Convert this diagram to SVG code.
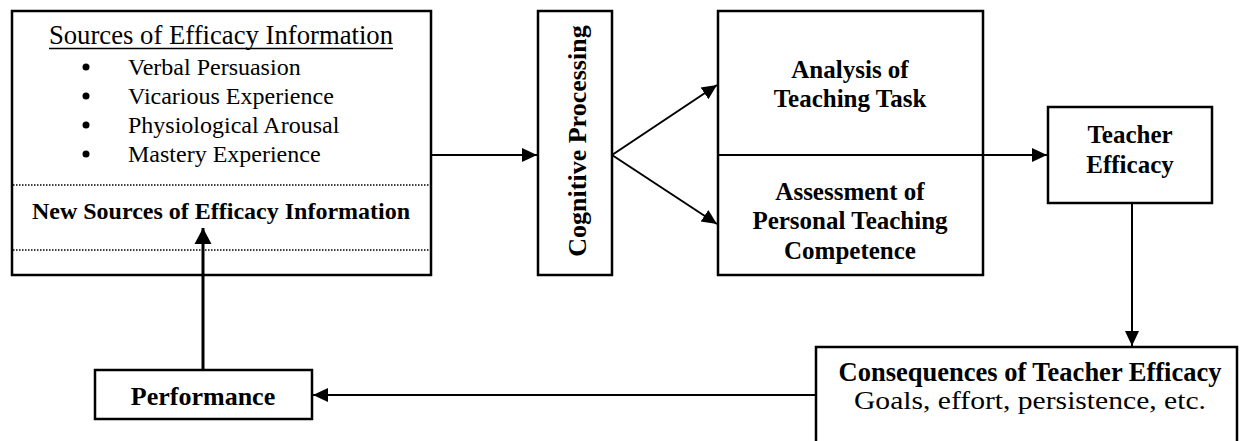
<svg xmlns="http://www.w3.org/2000/svg" width="1248" height="441" viewBox="0 0 1248 441">
<style>
.box{fill:#fff;stroke:#000;stroke-width:2.5}
.dot{stroke:#000;stroke-width:1.5;stroke-dasharray:1.5 1.5;fill:none}
.t{font-family:"Liberation Serif","Times New Roman",serif;fill:#000}
.b{font-weight:bold}
.c{text-anchor:middle}
.con{stroke:#000;stroke-width:2;fill:none}
.thick{stroke:#000;stroke-width:3;fill:none}
</style>
<defs>
<marker id="ah" markerUnits="userSpaceOnUse" markerWidth="16" markerHeight="16" refX="15" refY="8" orient="auto">
<path d="M0,1 L15,8 L0,15 Z" fill="#000"/>
</marker>
<marker id="ah2" markerUnits="userSpaceOnUse" markerWidth="18" markerHeight="18" refX="16" refY="9" orient="auto">
<path d="M0,0.5 L16,9 L0,17.5 Z" fill="#000"/>
</marker>
</defs>
<rect x="0" y="0" width="1248" height="441" fill="#fff"/>
<g id="sources">
<rect class="box" x="12" y="11" width="419" height="264"/>
<text class="t c" x="221" y="44" font-size="26.7">Sources of Efficacy Information</text>
<line x1="49" y1="48.5" x2="393" y2="48.5" stroke="#000" stroke-width="1.5"/>
<g class="t" font-size="24">
<circle cx="86" cy="67" r="3.5" fill="#000"/><text x="128" y="75">Verbal Persuasion</text>
<circle cx="86" cy="96" r="3.5" fill="#000"/><text x="128" y="104">Vicarious Experience</text>
<circle cx="86" cy="125" r="3.5" fill="#000"/><text x="128" y="133">Physiological Arousal</text>
<circle cx="86" cy="154" r="3.5" fill="#000"/><text x="128" y="162">Mastery Experience</text>
</g>
<line class="dot" x1="13" y1="185" x2="430" y2="185"/>
<text class="t b c" x="221" y="219" font-size="24">New Sources of Efficacy Information</text>
<line class="dot" x1="13" y1="250" x2="430" y2="250"/>
</g>
<g id="cognitive">
<rect class="box" x="538" y="11" width="74" height="264"/>
<text class="t b c" transform="translate(586,141) rotate(-90)" font-size="26">Cognitive Processing</text>
</g>
<g id="analysis">
<rect class="box" x="718" y="11" width="265" height="264"/>
<text class="t b c" font-size="25"><tspan x="850" y="78">Analysis of</tspan><tspan x="850" y="107">Teaching Task</tspan></text>
<text class="t b c" font-size="25"><tspan x="850" y="200">Assessment of</tspan><tspan x="850" y="229">Personal Teaching</tspan><tspan x="850" y="259">Competence</tspan></text>
</g>
<g id="teacher">
<rect class="box" x="1048" y="107" width="164" height="96"/>
<text class="t b c" font-size="25"><tspan x="1130" y="143">Teacher</tspan><tspan x="1130" y="173">Efficacy</tspan></text>
</g>
<g id="consequences">
<rect class="box" x="816" y="347" width="421" height="120"/>
<text class="t b c" x="1030" y="381" font-size="26.5">Consequences of Teacher Efficacy</text>
<text class="t c" x="1030" y="409" font-size="25.5" textLength="352" lengthAdjust="spacingAndGlyphs">Goals, effort, persistence, etc.</text>
</g>
<g id="performance">
<rect class="box" x="95" y="370" width="217" height="49"/>
<text class="t b c" x="203" y="405" font-size="26">Performance</text>
</g>
<g id="connectors">
<line class="con" x1="431" y1="155" x2="537" y2="155" marker-end="url(#ah)"/>
<line class="con" x1="612" y1="155" x2="717" y2="85" marker-end="url(#ah)"/>
<line class="con" x1="612" y1="155" x2="717" y2="224" marker-end="url(#ah)"/>
<line class="con" x1="718" y1="155" x2="1047" y2="155" marker-end="url(#ah)"/>
<line class="con" x1="1132" y1="203" x2="1132" y2="346" marker-end="url(#ah)"/>
<line class="con" x1="816" y1="395" x2="313" y2="395" marker-end="url(#ah)"/>
<line class="thick" x1="203" y1="370" x2="203" y2="228" marker-end="url(#ah2)"/>
</g>
</svg>
